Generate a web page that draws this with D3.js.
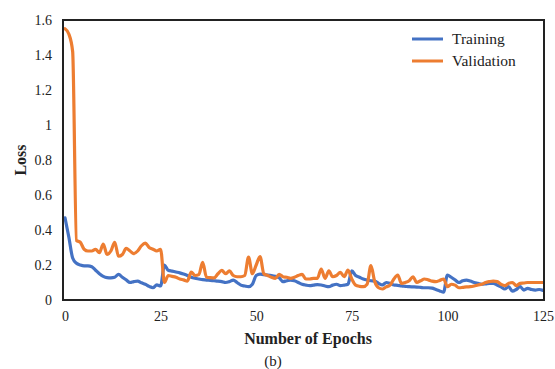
<!DOCTYPE html>
<html>
<head>
<meta charset="utf-8">
<script src="https://cdn.jsdelivr.net/npm/d3@7"></script>
<style>
  html, body { margin: 0; padding: 0; background: #fff; }
  svg { display: block; }
  text { font-family: "Liberation Serif", "Times New Roman", serif; fill: #222; }
</style>
</head>
<body>
<svg id="chart" width="555" height="369"></svg>
<script>
// Loss per epoch (epochs 0..125)
const epochs = d3.range(0, 126);

const training = [
  0.47, 0.36, 0.24, 0.21, 0.20, 0.195, 0.195, 0.19, 0.17, 0.15,
  0.135, 0.128, 0.127, 0.13, 0.147, 0.13, 0.115, 0.10, 0.105, 0.108,
  0.098, 0.09, 0.078, 0.07, 0.086, 0.08, 0.20, 0.17, 0.165, 0.16,
  0.155, 0.148, 0.14, 0.13, 0.124, 0.12, 0.116, 0.114, 0.112, 0.11,
  0.108, 0.105, 0.10, 0.105, 0.114, 0.10, 0.085, 0.08, 0.076, 0.09,
  0.14, 0.148, 0.145, 0.143, 0.14, 0.135, 0.127, 0.105, 0.11, 0.114,
  0.11, 0.10, 0.09, 0.085, 0.082, 0.085, 0.088, 0.086, 0.08, 0.076,
  0.085, 0.09, 0.082, 0.085, 0.09, 0.166, 0.14, 0.13, 0.12, 0.114,
  0.11, 0.108, 0.095, 0.086, 0.10, 0.095, 0.086, 0.084, 0.08, 0.078,
  0.076, 0.075, 0.074, 0.072, 0.07, 0.07, 0.068, 0.06, 0.052, 0.045,
  0.143, 0.13, 0.115, 0.10, 0.11, 0.114, 0.108, 0.10, 0.095, 0.09,
  0.092, 0.095, 0.095, 0.086, 0.075, 0.063, 0.076, 0.05, 0.06, 0.076,
  0.057, 0.067, 0.06, 0.057, 0.06, 0.055
];

const validation = [
  1.55, 1.52, 1.42, 0.34, 0.33, 0.29, 0.28, 0.28, 0.29, 0.27,
  0.32, 0.26, 0.28, 0.33, 0.25, 0.26, 0.295, 0.28, 0.265, 0.28,
  0.31, 0.325, 0.30, 0.29, 0.28, 0.29, 0.10, 0.14, 0.135, 0.13,
  0.12, 0.115, 0.108, 0.16, 0.14, 0.145, 0.215, 0.13, 0.128, 0.127,
  0.15, 0.17, 0.15, 0.166, 0.14, 0.133, 0.133, 0.14, 0.245, 0.15,
  0.20, 0.248, 0.15, 0.14, 0.13, 0.124, 0.147, 0.133, 0.13, 0.124,
  0.13, 0.14, 0.147, 0.12, 0.12, 0.124, 0.124, 0.177, 0.124, 0.166,
  0.133, 0.14, 0.158, 0.133, 0.171, 0.12, 0.085, 0.078, 0.076, 0.09,
  0.196, 0.105, 0.07, 0.063, 0.075, 0.085, 0.12, 0.143, 0.095, 0.10,
  0.11, 0.133, 0.10, 0.11, 0.12, 0.115, 0.108, 0.105, 0.112, 0.12,
  0.076, 0.09, 0.085, 0.07, 0.072, 0.075, 0.076, 0.08, 0.086, 0.09,
  0.10, 0.105, 0.108, 0.105, 0.09, 0.082, 0.095, 0.10, 0.082, 0.095,
  0.097, 0.10, 0.10, 0.10, 0.10, 0.10
];

const seriesNames = ["Training", "Validation"];
const seriesColors = ["#4472C4", "#ED7D31"];
const xTicks = [0, 25, 50, 75, 100, 125];
const yTicks = [0, 0.2, 0.4, 0.6, 0.8, 1, 1.2, 1.4, 1.6];

const svg = d3.select("#chart");
const plot = { left: 63, top: 20, right: 544, bottom: 300 };

const x = d3.scaleLinear().domain([0, 125]).range([65, 543]);
const y = d3.scaleLinear().domain([0, 1.6]).range([plot.bottom, plot.top]);

// Y axis tick labels
const yAxis = d3.axisLeft(y).tickValues(yTicks).tickSize(0).tickPadding(0)
  .tickFormat(d => d3.format("~g")(d));
svg.append("g").attr("transform", "translate(52,0)").call(yAxis)
  .call(g => g.select(".domain").remove())
  .selectAll("text").style("font-family", "Liberation Serif, serif")
  .style("font-size", "14px").attr("fill", "#444").attr("dy", "0.35em");

// X axis tick labels
const xAxis = d3.axisBottom(x).tickValues(xTicks).tickSize(0).tickPadding(0);
svg.append("g").attr("transform", "translate(0,311)").call(xAxis)
  .call(g => g.select(".domain").remove())
  .selectAll("text").style("font-family", "Liberation Serif, serif")
  .style("font-size", "14px").attr("fill", "#444").attr("dy", "0.71em");

// Series lines
const line = d3.line().x((d, i) => x(epochs[i])).y(d => y(d)).curve(d3.curveMonotoneX);
[training, validation].forEach((vals, k) => {
  svg.append("path").datum(vals)
    .attr("fill", "none")
    .attr("stroke", seriesColors[k])
    .attr("stroke-width", 3.2)
    .attr("stroke-linejoin", "round")
    .attr("stroke-linecap", "round")
    .attr("d", line);
});

// Plot frame
svg.append("rect")
  .attr("x", plot.left).attr("y", plot.top)
  .attr("width", plot.right - plot.left).attr("height", plot.bottom - plot.top)
  .attr("fill", "none").attr("stroke", "#222").attr("stroke-width", 2);

// Legend
const legend = svg.append("g");
seriesNames.forEach((name, i) => {
  const ly = 39 + i * 22;
  legend.append("line").attr("x1", 412).attr("x2", 443).attr("y1", ly).attr("y2", ly)
    .attr("stroke", seriesColors[i]).attr("stroke-width", 3);
  legend.append("text").attr("x", 452).attr("y", ly).attr("dy", "0.35em")
    .style("font-size", "15.5px").text(name);
});

// Axis titles and caption
svg.append("text").attr("transform", "translate(20,160) rotate(-90)")
  .attr("text-anchor", "middle").attr("dy", "0.35em")
  .style("font-size", "16px").style("font-weight", "bold").text("Loss");
svg.append("text").attr("x", 308).attr("y", 338).attr("dy", "0.35em")
  .attr("text-anchor", "middle")
  .style("font-size", "16px").style("font-weight", "bold").text("Number of Epochs");
svg.append("text").attr("x", 273).attr("y", 361).attr("dy", "0.35em")
  .attr("text-anchor", "middle").style("font-size", "15px").text("(b)");
</script>
</body>
</html>
